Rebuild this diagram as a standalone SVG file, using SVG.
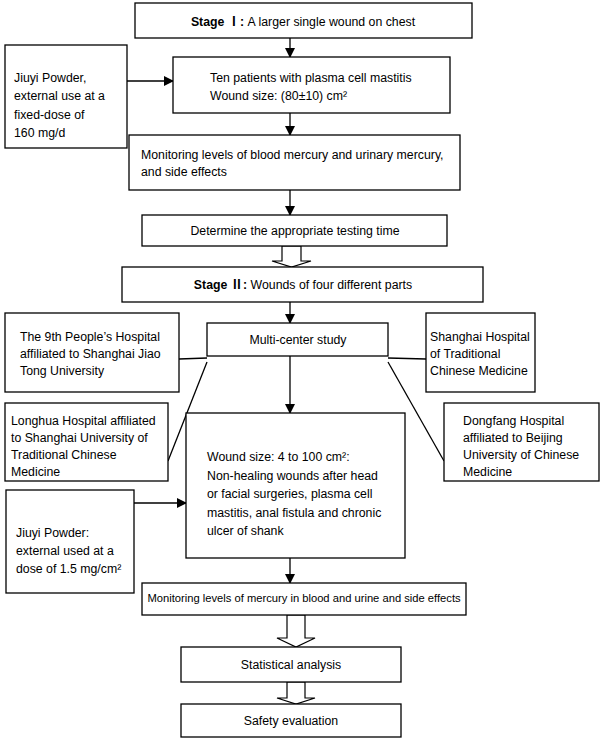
<svg xmlns="http://www.w3.org/2000/svg" width="600" height="739" viewBox="0 0 600 739">
<style>
.box{fill:#fff;stroke:#000;stroke-width:1.3}
text{font-family:"Liberation Sans",Arial,"Noto Sans CJK SC",sans-serif;font-size:12.3px;fill:#000}
.c{text-anchor:middle}
.b{font-weight:bold}
.ln{stroke:#000;stroke-width:1.3;fill:none}
.hollow{fill:#fff;stroke:#000;stroke-width:1.2}
</style>
<defs>
<marker id="ah" markerWidth="10" markerHeight="10" refX="9" refY="5" orient="auto" markerUnits="userSpaceOnUse">
<path d="M0,0 L10,5 L0,10 Z" fill="#000"/>
</marker>
</defs>
<rect width="600" height="739" fill="#fff"/>
<g id="connectors">
<line class="ln" x1="290" y1="38" x2="290" y2="57" marker-end="url(#ah)"/>
<line class="ln" x1="127" y1="81" x2="173" y2="81" marker-end="url(#ah)"/>
<line class="ln" x1="290" y1="113" x2="290" y2="135" marker-end="url(#ah)"/>
<line class="ln" x1="290" y1="190" x2="290" y2="215" marker-end="url(#ah)"/>
<polygon class="hollow" points="282,246 301,246 301,261 311,261 291.5,267 272,261 282,261"/>
<line class="ln" x1="290" y1="302" x2="290" y2="323" marker-end="url(#ah)"/>
<line class="ln" x1="179" y1="359" x2="207" y2="358"/>
<line class="ln" x1="388" y1="358" x2="426" y2="359"/>
<line class="ln" x1="207" y1="362" x2="168" y2="461"/>
<line class="ln" x1="388" y1="362" x2="444" y2="461"/>
<line class="ln" x1="290" y1="356" x2="290" y2="413" marker-end="url(#ah)"/>
<line class="ln" x1="134" y1="503" x2="186" y2="503" marker-end="url(#ah)"/>
<line class="ln" x1="290" y1="558" x2="290" y2="583" marker-end="url(#ah)"/>
<polygon class="hollow" points="287,615 305,615 305,638 315,638 296,647 277,638 287,638"/>
<polygon class="hollow" points="287,682 305,682 305,698 315,698 296,704 277,698 287,698"/>
</g>
<g id="stage1">
<rect class="box" x="135" y="3" width="337" height="35"/>
<text class="c" x="303" y="26"><tspan class="b">Stage Ⅰ: </tspan>A larger single wound on chest</text>
</g>
<g id="patients">
<rect class="box" x="173" y="57" width="277" height="56"/>
<text x="210" y="82">Ten patients with plasma cell mastitis</text>
<text x="210" y="100">Wound size: (80±10) cm²</text>
</g>
<g id="jiuyi1">
<rect class="box" x="5" y="45" width="122" height="103"/>
<text x="14" y="82">Jiuyi Powder,</text>
<text x="14" y="100">external use at a</text>
<text x="14" y="119">fixed-dose of</text>
<text x="14" y="137">160 mg/d</text>
</g>
<g id="monitor1">
<rect class="box" x="129" y="135" width="331" height="55"/>
<text x="141" y="159">Monitoring levels of blood mercury and urinary mercury,</text>
<text x="141" y="176">and side effects</text>
</g>
<g id="determine">
<rect class="box" x="142" y="215" width="305" height="31"/>
<text class="c" x="295" y="235">Determine the appropriate testing time</text>
</g>
<g id="stage2">
<rect class="box" x="122" y="267" width="361" height="35"/>
<text class="c" x="303" y="289"><tspan class="b">Stage Ⅱ: </tspan>Wounds of four different parts</text>
</g>
<g id="multicenter">
<rect class="box" x="207" y="323" width="181" height="33"/>
<text class="c" x="298" y="344">Multi-center study</text>
</g>
<g id="hosp9">
<rect class="box" x="5" y="313" width="174" height="79"/>
<text x="20" y="341">The 9th People’s Hospital</text>
<text x="20" y="358">affiliated to Shanghai Jiao</text>
<text x="20" y="375">Tong University</text>
</g>
<g id="shanghai">
<rect class="box" x="426" y="313" width="109" height="79"/>
<text x="430" y="341">Shanghai Hospital</text>
<text x="430" y="358">of Traditional</text>
<text x="430" y="375">Chinese Medicine</text>
</g>
<g id="longhua">
<rect class="box" x="5" y="403" width="163" height="78"/>
<text x="11" y="425">Longhua Hospital affiliated</text>
<text x="11" y="442">to Shanghai University of</text>
<text x="11" y="459">Traditional Chinese</text>
<text x="11" y="476">Medicine</text>
</g>
<g id="dongfang">
<rect class="box" x="444" y="403" width="155" height="78"/>
<text x="463" y="425">Dongfang Hospital</text>
<text x="463" y="442">affiliated to Beijing</text>
<text x="463" y="459">University of Chinese</text>
<text x="463" y="476">Medicine</text>
</g>
<g id="wound">
<rect class="box" x="186" y="413" width="219" height="145"/>
<text x="207" y="461">Wound size: 4 to 100 cm²:</text>
<text x="207" y="480">Non-healing wounds after head</text>
<text x="207" y="498">or facial surgeries, plasma cell</text>
<text x="207" y="517">mastitis, anal fistula and chronic</text>
<text x="207" y="535">ulcer of shank</text>
</g>
<g id="jiuyi2">
<rect class="box" x="6" y="490" width="128" height="103"/>
<text x="16" y="537">Jiuyi Powder:</text>
<text x="16" y="555">external used at a</text>
<text x="16" y="573">dose of 1.5 mg/cm²</text>
</g>
<g id="monitor2">
<rect class="box" x="142" y="583" width="324" height="32"/>
<text class="c" x="304" y="602" style="font-size:11.2px">Monitoring levels of mercury in blood and urine and side effects</text>
</g>
<g id="stats">
<rect class="box" x="181" y="647" width="220" height="35"/>
<text class="c" x="291" y="669">Statistical analysis</text>
</g>
<g id="safety">
<rect class="box" x="181" y="704" width="220" height="33"/>
<text class="c" x="291" y="725">Safety evaluation</text>
</g>
</svg>
